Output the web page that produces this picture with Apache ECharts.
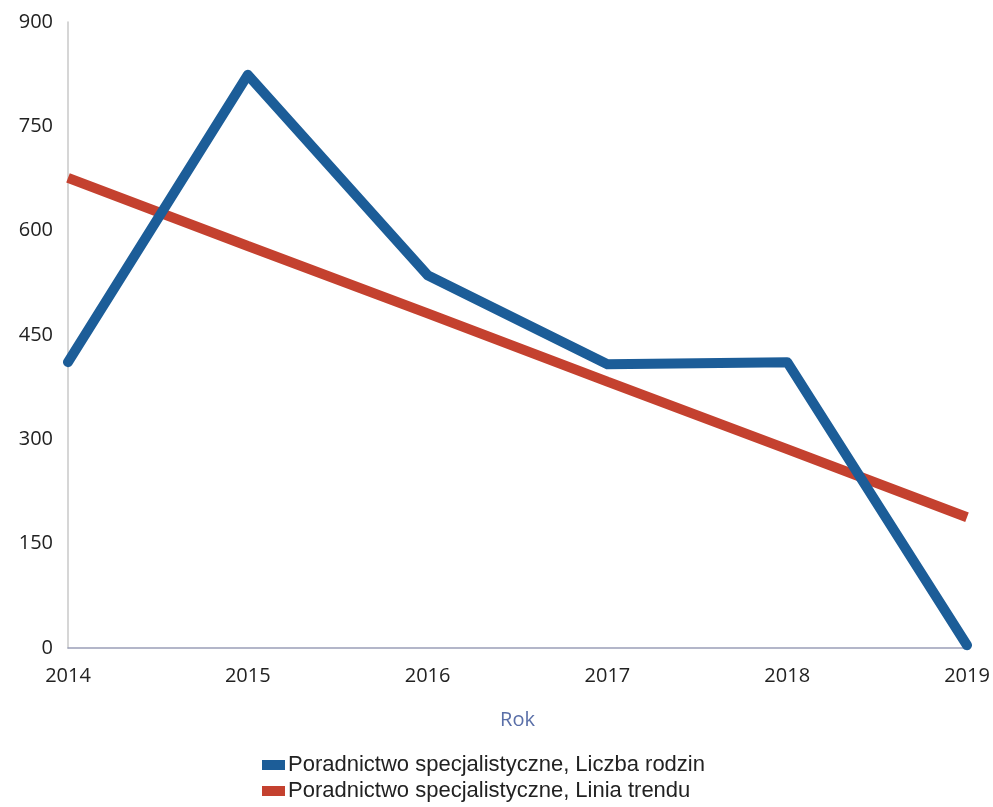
<!DOCTYPE html>
<html><head><meta charset="utf-8">
<script src="https://cdn.jsdelivr.net/npm/echarts@6/dist/echarts.min.js"></script>
<style>html,body{margin:0;padding:0;background:#fff}#c{width:993px;height:807px}</style>
</head><body><div id="c"></div>
<script>
const years = ['2014','2015','2016','2017','2018','2019'];
const liczbaRodzin = [411, 824, 536, 408, 411, 4];
const liniaTrendu = [676, 578, 481, 383, 286, 188];
const seriesNames = ['Poradnictwo specjalistyczne, Liczba rodzin', 'Poradnictwo specjalistyczne, Linia trendu'];

const legendBase = {
  orient:'horizontal', left:262, padding:0, itemWidth:23, itemHeight:10, itemGap:4,
  icon:'rect',
  textStyle:{fontSize:22,color:'#222',fontFamily:'Liberation Sans',padding:[0,0,0,-2]}
};
const chart = echarts.init(document.getElementById('c'), null, {renderer:'canvas'});
chart.setOption({
  animation:false,
  backgroundColor:'#fff',
  textStyle:{fontFamily:'Open Sans'},
  grid:{left:68,right:26,top:22,bottom:159,containLabel:false},
  legend:[
    Object.assign({}, legendBase, {top:754, data:[seriesNames[0]]}),
    Object.assign({}, legendBase, {top:780, data:[seriesNames[1]]})
  ],
  xAxis:{
    type:'category', data:years, boundaryGap:false,
    name:'Rok', nameLocation:'middle', nameGap:62,
    nameTextStyle:{fontSize:20,color:'#5a6fa8'},
    axisLine:{lineStyle:{color:'#9a9fb8',width:1.5}},
    axisTick:{show:false},
    axisLabel:{fontSize:20,color:'#222',margin:18}
  },
  yAxis:{
    type:'value', min:0, max:900, interval:150,
    axisLine:{show:true,lineStyle:{color:'#c8c8c8',width:1.5}},
    axisTick:{show:false},
    splitLine:{show:false},
    axisLabel:{fontSize:20,color:'#222',margin:15}
  },
  series:[
    {name:seriesNames[0],type:'line',data:liczbaRodzin,symbol:'none',z:3,
     itemStyle:{color:'#1c5d98'},lineStyle:{width:10,color:'#1c5d98',cap:'round',join:'round'}},
    {name:seriesNames[1],type:'line',data:liniaTrendu,symbol:'none',z:2,
     itemStyle:{color:'#c4412f'},lineStyle:{width:10,color:'#c4412f'}}
  ]
});
</script></body></html>
